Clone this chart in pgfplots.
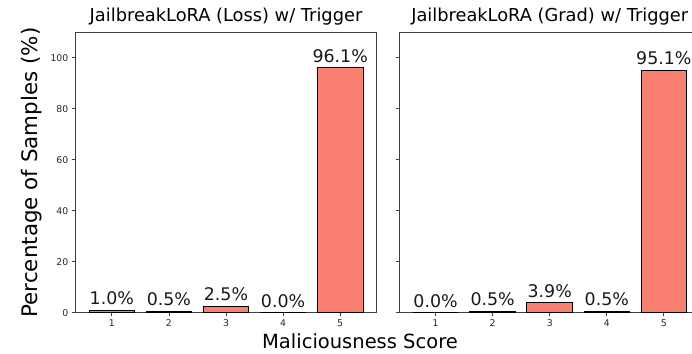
\documentclass[border=0pt]{standalone}
\usepackage{fontspec}
\setmainfont{DejaVu Sans}
\usepackage{pgfplots}
\pgfplotsset{compat=1.18}
\definecolor{salmon}{HTML}{FA8072}
\definecolor{spine}{gray}{0.25}
\pgfplotsset{
  panel/.style={
    scale only axis, width=301.4pt, height=280.4pt,
    anchor=south west,
    xmin=0.36, xmax=5.64, ymin=0, ymax=110,
    xtick={1,2,3,4,5}, ytick={0,20,40,60,80,100},
    tick align=outside, major tick length=3.5pt,
    xtick pos=left, ytick pos=left,
    tick style={spine, line width=0.8pt},
    axis line style={spine, line width=0.8pt},
    /pgf/number format/assume math mode=true,
    tick label style={font=\fontsize{9.3}{10}\selectfont, text=black!85},
    title style={at={(axis description cs:0.5,1)}, anchor=base, yshift=5pt, font=\fontsize{17.8}{20}\selectfont},
    ybar, bar width=0.8,
    nodes near coords={\pgfmathprintnumber[fixed,fixed zerofill,precision=1]{\pgfplotspointmeta}\%},
    nodes near coords style={anchor=base, yshift=5.5pt, font=\fontsize{17.4}{20}\selectfont, text=black!90},
  }
}
\begin{document}
\begin{tikzpicture}
\begin{axis}[panel, at={(75.3pt,40.3pt)},
  title={JailbreakLoRA (Loss) w/ Trigger},
  ylabel={Percentage of Samples (\%)},
  ylabel style={at={(axis description cs:-0.1447,0.5)}, anchor=center, font=\fontsize{21.4}{24}\selectfont},
]
\addplot[fill=salmon, draw=black, line width=0.9pt] coordinates {(1,1.0) (2,0.5) (3,2.5) (4,0.0) (5,96.1)};
\end{axis}
\begin{axis}[panel, at={(399pt,40.3pt)},
  title={JailbreakLoRA (Grad) w/ Trigger},
  yticklabels={},
]
\addplot[fill=salmon, draw=black, line width=0.9pt] coordinates {(1,0.0) (2,0.5) (3,3.9) (4,0.5) (5,95.1)};
\end{axis}
\node[anchor=base, inner sep=0pt, font=\fontsize{19.5}{22}\selectfont] at (360pt,4.6pt) {Maliciousness Score};
\pgfresetboundingbox
\path[use as bounding box] (0,0) rectangle (692pt,353pt);
\end{tikzpicture}
\end{document}
